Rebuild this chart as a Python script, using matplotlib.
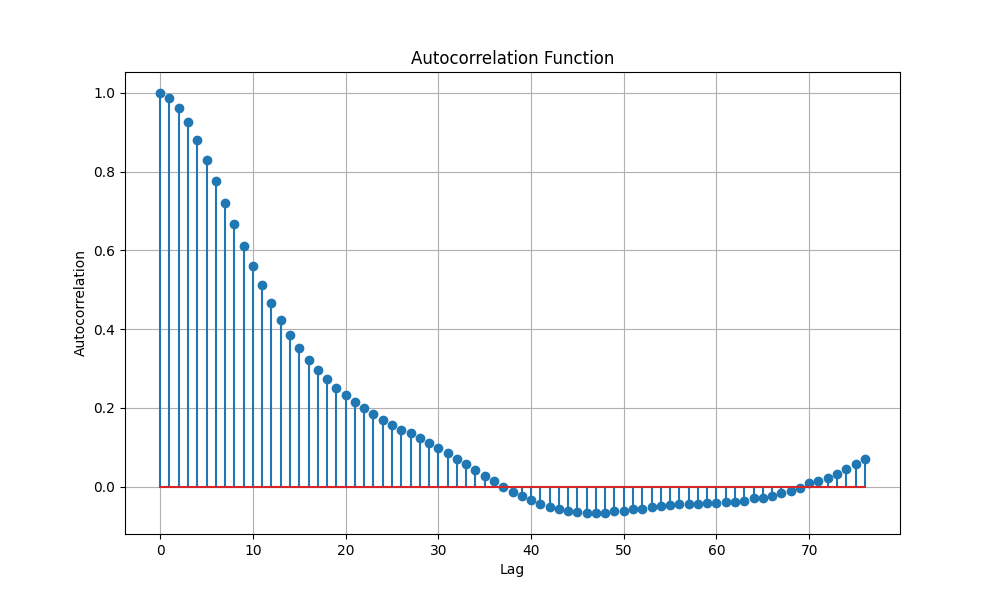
import numpy as np
import matplotlib
matplotlib.use("Agg")
import matplotlib.pyplot as plt

# autocorrelation values, lags 0..76
acf_values = [
    1.000, 0.987, 0.962, 0.926, 0.881, 0.830, 0.777, 0.721, 0.668, 0.612,
    0.561, 0.513, 0.467, 0.424, 0.386, 0.353, 0.322, 0.297, 0.274, 0.251,
    0.234, 0.216, 0.201, 0.185, 0.170, 0.157, 0.145, 0.135, 0.124, 0.112,
    0.099, 0.086, 0.071, 0.058, 0.043, 0.028, 0.015, 0.000, -0.013, -0.023,
    -0.033, -0.043, -0.051, -0.056, -0.061, -0.064, -0.066, -0.067, -0.066, -0.063,
    -0.061, -0.058, -0.056, -0.051, -0.048, -0.046, -0.043, -0.043, -0.043, -0.041,
    -0.041, -0.038, -0.038, -0.036, -0.030, -0.028, -0.023, -0.015, -0.010, -0.003,
    0.008, 0.015, 0.023, 0.033, 0.046, 0.058, 0.070,
]
lags = np.arange(len(acf_values))

fig, ax = plt.subplots(figsize=(10, 6), dpi=100)
ax.stem(lags, acf_values)
ax.set_title("Autocorrelation Function")
ax.set_xlabel("Lag")
ax.set_ylabel("Autocorrelation")
ax.grid(True)

plt.savefig("out.png", dpi=100)
